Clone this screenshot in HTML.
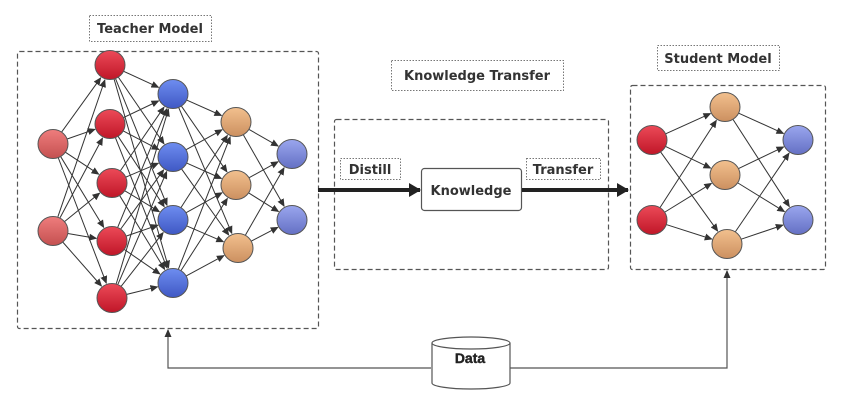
<!DOCTYPE html>
<html><head><meta charset="utf-8"><style>
html,body{margin:0;padding:0;background:#fff;width:842px;height:406px;overflow:hidden}
svg{display:block;font-family:"DejaVu Sans","Liberation Sans",sans-serif}
</style></head><body>
<svg id="s" width="842" height="406" viewBox="0 0 842 406" xmlns="http://www.w3.org/2000/svg">
<defs>
<marker id="a" markerWidth="8" markerHeight="8" refX="7" refY="4" orient="auto" markerUnits="userSpaceOnUse"><path d="M0,0.5 L8,4 L0,7.5z" fill="#333"/></marker>
<marker id="b" markerWidth="12" markerHeight="14" refX="11" refY="7" orient="auto" markerUnits="userSpaceOnUse"><path d="M0,0 L12,7 L0,14z" fill="#222"/></marker>
<linearGradient id="gr" x1="0" y1="0" x2="0" y2="1"><stop offset="0" stop-color="#ec4a58"/><stop offset="1" stop-color="#c01628"/></linearGradient>
<linearGradient id="gp" x1="0" y1="0" x2="0" y2="1"><stop offset="0" stop-color="#ef7d7d"/><stop offset="1" stop-color="#c45050"/></linearGradient>
<linearGradient id="gb" x1="0" y1="0" x2="0" y2="1"><stop offset="0" stop-color="#6e8df0"/><stop offset="1" stop-color="#3f58c4"/></linearGradient>
<linearGradient id="go" x1="0" y1="0" x2="0" y2="1"><stop offset="0" stop-color="#f2c08e"/><stop offset="1" stop-color="#cc9060"/></linearGradient>
<linearGradient id="gl" x1="0" y1="0" x2="0" y2="1"><stop offset="0" stop-color="#9aa6ee"/><stop offset="1" stop-color="#6470c4"/></linearGradient>
</defs>
<g fill="none" stroke="#555" stroke-width="1.2">
<rect x="17.5" y="51.5" width="301" height="277" stroke-dasharray="5,3" rx="2"/>
<rect x="334.5" y="119.5" width="274" height="150" stroke-dasharray="5,3" rx="2"/>
<rect x="630.5" y="85.5" width="195" height="184" stroke-dasharray="5,3" rx="2"/>
</g>
<g fill="#fff" stroke="#777" stroke-width="1" stroke-dasharray="1.5,1.5">
<rect x="89.5" y="15.5" width="122" height="26"/>
<rect x="391.5" y="60.5" width="172" height="30"/>
<rect x="657.5" y="45.5" width="122" height="25"/>
<rect x="340.5" y="158.5" width="60" height="21"/>
<rect x="526.5" y="158.5" width="74" height="21"/>
</g>
<g font-weight="bold" font-size="13" fill="#333" text-anchor="middle">
<text x="150" y="33">Teacher Model</text>
<text x="477" y="80">Knowledge Transfer</text>
<text x="718" y="63">Student Model</text>
<text x="370" y="174">Distill</text>
<text x="563" y="174">Transfer</text>
</g>
<rect x="421.5" y="168.5" width="100" height="42" rx="3" fill="#fff" stroke="#555" stroke-width="1.2"/>
<text x="471" y="195" font-weight="bold" font-size="13" fill="#333" text-anchor="middle">Knowledge</text>
<line x1="318" y1="190" x2="420" y2="190" stroke="#222" stroke-width="4" marker-end="url(#b)"/>
<line x1="522" y1="190" x2="628" y2="190" stroke="#222" stroke-width="4" marker-end="url(#b)"/>
<g id="edges" stroke="#333" stroke-width="1" fill="none"></g>
<g id="nodes" stroke="#555" stroke-width="1"></g>
<path d="M431,368 H168 V330" fill="none" stroke="#555" stroke-width="1.2" marker-end="url(#a)"/>
<path d="M510,368 H727 V271" fill="none" stroke="#555" stroke-width="1.2" marker-end="url(#a)"/>
<path d="M432,343 V383 A39,6 0 0 0 510,383 V343" fill="#fff" stroke="#555" stroke-width="1.2"/>
<ellipse cx="471" cy="343" rx="39" ry="6" fill="#fff" stroke="#555" stroke-width="1.2"/>
<text x="470" y="363" font-family="'Liberation Sans Narrow','Liberation Sans',sans-serif" font-weight="bold" font-size="14" fill="#222" text-anchor="middle" stroke="#222" stroke-width="0.4">Data</text>
</svg>
<script>
var L=[
 [[[53,144],[53,231]],"gp"],
 [[[110,65],[110,124],[112,183],[112,241],[112,298]],"gr"],
 [[[173,94],[173,157],[173,220],[173,283]],"gb"],
 [[[236,122],[236,185],[238,248]],"go"],
 [[[292,154],[292,220]],"gl"]
];
var S=[
 [[[652,140],[652,220]],"gr"],
 [[[725,107],[725,175],[727,244]],"go"],
 [[[798,140],[798,220]],"gl"]
];
var ns="http://www.w3.org/2000/svg",E=document.getElementById("edges"),N=document.getElementById("nodes"),r=15;
function draw(net){
 for(var i=0;i<net.length-1;i++){
  net[i][0].forEach(function(p){net[i+1][0].forEach(function(q){
   var dx=q[0]-p[0],dy=q[1]-p[1],d=Math.sqrt(dx*dx+dy*dy);
   var l=document.createElementNS(ns,"line");
   l.setAttribute("x1",p[0]+dx/d*r);l.setAttribute("y1",p[1]+dy/d*r);
   l.setAttribute("x2",q[0]-dx/d*(r+1));l.setAttribute("y2",q[1]-dy/d*(r+1));
   l.setAttribute("marker-end","url(#a)");E.appendChild(l);
  });});
 }
 net.forEach(function(layer){layer[0].forEach(function(p){
  var c=document.createElementNS(ns,"ellipse");
  c.setAttribute("cx",p[0]);c.setAttribute("cy",p[1]);c.setAttribute("rx",15);c.setAttribute("ry",14.5);
  c.setAttribute("fill","url(#"+layer[1]+")");N.appendChild(c);
 });});
}
draw(L);draw(S);
</script>
</body></html>
